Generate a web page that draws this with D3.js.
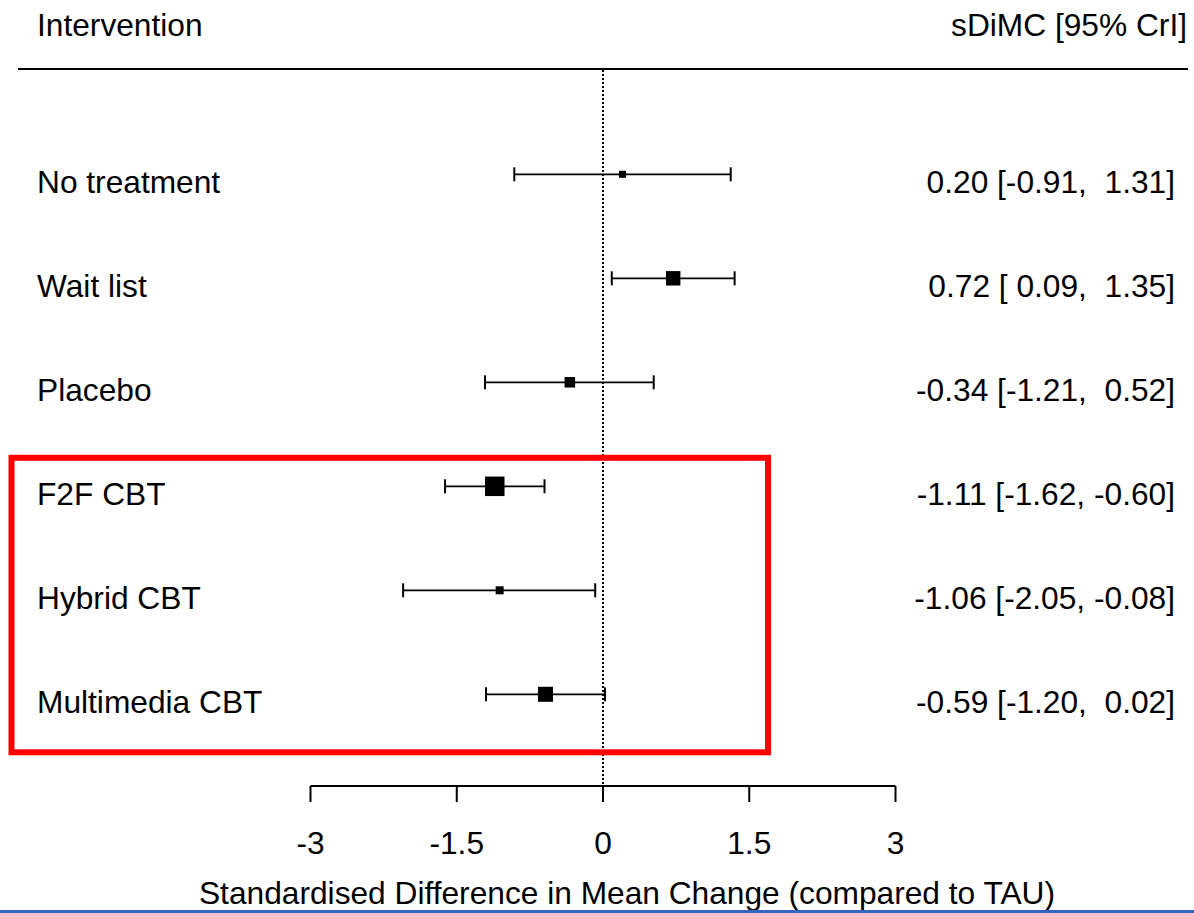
<!DOCTYPE html>
<html>
<head>
<meta charset="utf-8">
<script src="https://cdn.jsdelivr.net/npm/d3@7"></script>
<style>
  body { margin: 0; background: #fff; }
  svg text { font-family: "Liberation Sans", Arial, sans-serif; font-size: 31.7px; fill: #000; white-space: pre; }
</style>
</head>
<body>
<svg id="chart" width="1194" height="913"></svg>
<script>
const interventions = ["No treatment", "Wait list", "Placebo", "F2F CBT", "Hybrid CBT", "Multimedia CBT"];
const estimates = [0.20, 0.72, -0.34, -1.11, -1.06, -0.59];
const lower = [-0.91, 0.09, -1.21, -1.62, -2.05, -1.20];
const upper = [1.31, 1.35, 0.52, -0.60, -0.08, 0.02];
// relative box size (precision weight)
const weights = [0.36, 0.74, 0.54, 1.0, 0.41, 0.77];
const xTicks = [-3, -1.5, 0, 1.5, 3];
const highlighted = ["F2F CBT", "Hybrid CBT", "Multimedia CBT"];

const svg = d3.select("#chart");

const x = d3.scaleLinear().domain([-3, 3]).range([310.5, 895.5]);
const y = d3.scalePoint().domain(interventions).range([174.3, 694.3]);
const box = d3.scaleLinear().domain([0, 1]).range([0, 19.5]);

const rows = interventions.map((d, i) => ({
  name: d, est: estimates[i], lo: lower[i], hi: upper[i], w: weights[i]
}));

const fmt = v => v.toFixed(2).padStart(5, " ");

// header
svg.append("text").attr("x", 37).attr("y", 36).text("Intervention");
svg.append("text").attr("x", 1187).attr("y", 36).attr("text-anchor", "end").text("sDiMC [95% CrI]");
svg.append("line")
  .attr("x1", 18).attr("x2", 1188).attr("y1", 69).attr("y2", 69)
  .attr("stroke", "#000").attr("stroke-width", 2);

// reference line at zero
svg.append("line")
  .attr("x1", x(0)).attr("x2", x(0)).attr("y1", 70).attr("y2", 786)
  .attr("stroke", "#000").attr("stroke-width", 2)
  .attr("stroke-dasharray", "2,2");

// rows
const g = svg.selectAll("g.row")
  .data(rows)
  .enter()
  .append("g")
  .attr("class", "row")
  .attr("transform", d => "translate(0," + y(d.name) + ")");

g.append("line")
  .attr("x1", d => x(d.lo)).attr("x2", d => x(d.hi))
  .attr("stroke", "#000").attr("stroke-width", 1.8);

g.append("line")
  .attr("x1", d => x(d.lo)).attr("x2", d => x(d.lo))
  .attr("y1", -7).attr("y2", 7)
  .attr("stroke", "#000").attr("stroke-width", 2);

g.append("line")
  .attr("x1", d => x(d.hi)).attr("x2", d => x(d.hi))
  .attr("y1", -7).attr("y2", 7)
  .attr("stroke", "#000").attr("stroke-width", 2);

g.append("rect")
  .attr("x", d => x(d.est) - box(d.w) / 2)
  .attr("y", d => -box(d.w) / 2)
  .attr("width", d => box(d.w))
  .attr("height", d => box(d.w))
  .attr("fill", "#000");

g.append("text")
  .attr("x", 37).attr("y", 18.5)
  .text(d => d.name);

g.append("text")
  .attr("x", 1175).attr("y", 18.5)
  .attr("text-anchor", "end")
  .text(d => fmt(d.est).trim() + " [" + fmt(d.lo) + ", " + fmt(d.hi) + "]");

// highlight box
const hTop = y(highlighted[0]) - 28.5;
const hBottom = y(highlighted[highlighted.length - 1]) + 58;
svg.append("rect")
  .attr("x", 11.5).attr("y", hTop)
  .attr("width", 768 - 11.5).attr("height", hBottom - hTop)
  .attr("fill", "none")
  .attr("stroke", "#ff0000").attr("stroke-width", 6);

// x axis
const axis = svg.append("g").attr("transform", "translate(0,786)");
axis.append("line")
  .attr("x1", x(-3)).attr("x2", x(3))
  .attr("stroke", "#000").attr("stroke-width", 2);
axis.selectAll("line.tick")
  .data(xTicks)
  .enter()
  .append("line")
  .attr("class", "tick")
  .attr("x1", d => x(d)).attr("x2", d => x(d))
  .attr("y1", 0).attr("y2", 16)
  .attr("stroke", "#000").attr("stroke-width", 2);
axis.selectAll("text.tick")
  .data(xTicks)
  .enter()
  .append("text")
  .attr("class", "tick")
  .attr("x", d => x(d)).attr("y", 68)
  .attr("text-anchor", "middle")
  .text(d => d);

svg.append("text")
  .attr("x", 627).attr("y", 904)
  .attr("text-anchor", "middle")
  .text("Standardised Difference in Mean Change (compared to TAU)");

// bottom rule
svg.append("rect")
  .attr("x", 0).attr("y", 910).attr("width", 1194).attr("height", 3)
  .attr("fill", "#3465c0");
</script>
</body>
</html>
